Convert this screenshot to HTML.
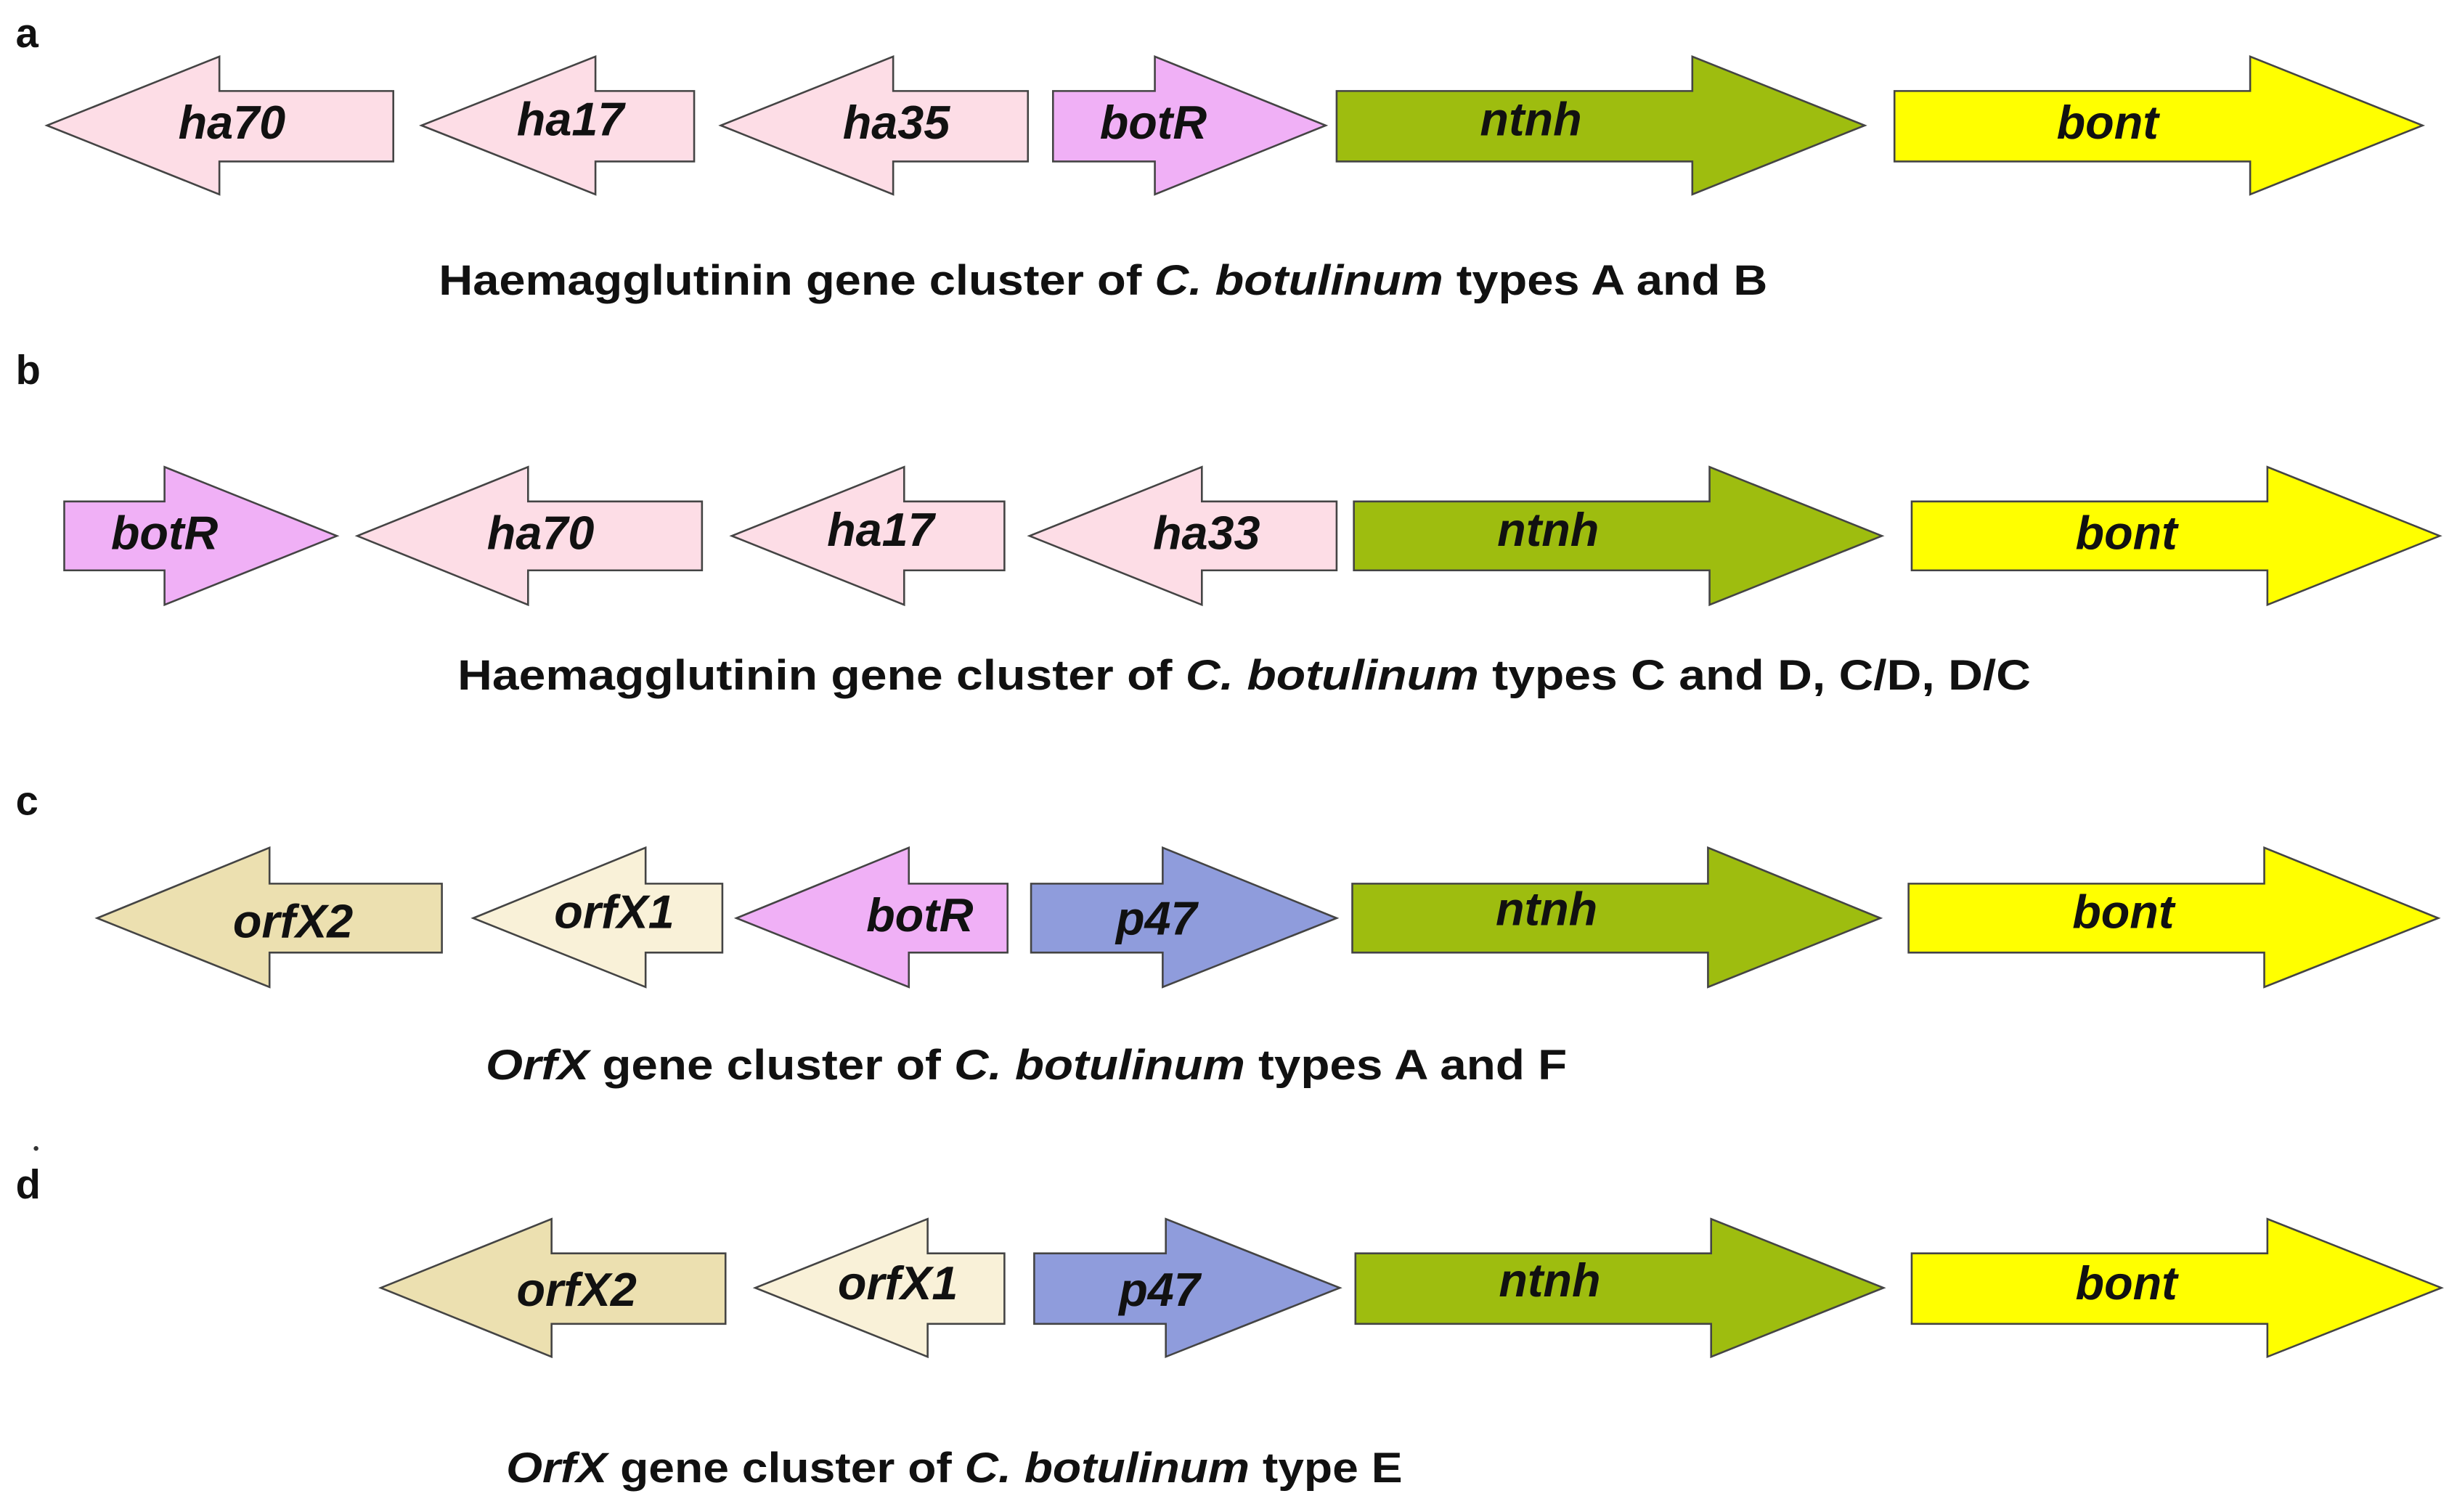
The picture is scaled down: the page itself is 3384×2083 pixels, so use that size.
<!DOCTYPE html>
<html><head><meta charset="utf-8"><style>
html,body{margin:0;padding:0;background:#fff;}
svg{display:block;}
.l{font-family:"Liberation Sans",sans-serif;font-weight:bold;font-style:italic;font-size:30px;fill:#111;text-anchor:middle;dominant-baseline:central;}
.c{font-family:"Liberation Sans",sans-serif;font-weight:bold;font-size:27px;fill:#111;}
.p{font-family:"Liberation Sans",sans-serif;font-weight:bold;font-size:26px;fill:#111;}
polygon{stroke:#444;stroke-width:1.2;}
</style></head><body>
<svg width="3384" height="2083" viewBox="0 0 1568 965" xmlns="http://www.w3.org/2000/svg">
<text class="p" x="10" y="30">a</text>
<polygon fill="#fddde6" points="30,80 140,36 140,58 251,58 251,103 140,103 140,124"/>
<polygon fill="#fddde6" points="269,80 380,36 380,58 443,58 443,103 380,103 380,124"/>
<polygon fill="#fddde6" points="460,80 570,36 570,58 656,58 656,103 570,103 570,124"/>
<polygon fill="#f0b0f6" points="846,80 737,36 737,58 672,58 672,103 737,103 737,124"/>
<polygon fill="#9ebd0f" points="1190,80 1080,36 1080,58 853,58 853,103 1080,103 1080,124"/>
<polygon fill="#ffff00" points="1546,80 1436,36 1436,58 1209,58 1209,103 1436,103 1436,124"/>
<text class="l" x="148" y="78">ha70</text>
<text class="l" x="364" y="76">ha17</text>
<text class="l" x="572" y="78">ha35</text>
<text class="l" x="736" y="78">botR</text>
<text class="l" x="977" y="76">ntnh</text>
<text class="l" x="1345" y="78">bont</text>
<text class="c" x="280" y="188" textLength="848" lengthAdjust="spacingAndGlyphs">Haemagglutinin gene cluster of <tspan font-style="italic">C. botulinum</tspan> types A and B</text>

<text class="p" x="10" y="245">b</text>
<polygon fill="#f0b0f6" points="215,342 105,298 105,320 41,320 41,364 105,364 105,386"/>
<polygon fill="#fddde6" points="228,342 337,298 337,320 448,320 448,364 337,364 337,386"/>
<polygon fill="#fddde6" points="467,342 577,298 577,320 641,320 641,364 577,364 577,386"/>
<polygon fill="#fddde6" points="657,342 767,298 767,320 853,320 853,364 767,364 767,386"/>
<polygon fill="#9ebd0f" points="1201,342 1091,298 1091,320 864,320 864,364 1091,364 1091,386"/>
<polygon fill="#ffff00" points="1557,342 1447,298 1447,320 1220,320 1220,364 1447,364 1447,386"/>
<text class="l" x="105" y="340">botR</text>
<text class="l" x="345" y="340">ha70</text>
<text class="l" x="562" y="338">ha17</text>
<text class="l" x="770" y="340">ha33</text>
<text class="l" x="988" y="338">ntnh</text>
<text class="l" x="1357" y="340">bont</text>
<text class="c" x="292" y="440" textLength="1004" lengthAdjust="spacingAndGlyphs">Haemagglutinin  gene cluster of  <tspan font-style="italic">C. botulinum</tspan>  types C and D, C/D, D/C</text>

<text class="p" x="10" y="520">c</text>
<polygon fill="#ece0b0" points="62,586 172,541 172,564 282,564 282,608 172,608 172,630"/>
<polygon fill="#f9f1d8" points="302,586 412,541 412,564 461,564 461,608 412,608 412,630"/>
<polygon fill="#f0b0f6" points="470,586 580,541 580,564 643,564 643,608 580,608 580,630"/>
<polygon fill="#8f9cdc" points="853,586 742,541 742,564 658,564 658,608 742,608 742,630"/>
<polygon fill="#9ebd0f" points="1200,586 1090,541 1090,564 863,564 863,608 1090,608 1090,630"/>
<polygon fill="#ffff00" points="1556,586 1445,541 1445,564 1218,564 1218,608 1445,608 1445,630"/>
<text class="l" x="187" y="588">orfX2</text>
<text class="l" x="392" y="582">orfX1</text>
<text class="l" x="587" y="584">botR</text>
<text class="l" x="738" y="586">p47</text>
<text class="l" x="987" y="580">ntnh</text>
<text class="l" x="1355" y="582">bont</text>
<text class="c" x="310" y="689" textLength="690" lengthAdjust="spacingAndGlyphs"><tspan font-style="italic">OrfX</tspan> gene cluster  of  <tspan font-style="italic">C. botulinum</tspan>  types A and F</text>

<circle cx="23" cy="733" r="1.5" fill="#333"/>
<text class="p" x="10" y="765">d</text>
<polygon fill="#ece0b0" points="243,822 352,778 352,800 463,800 463,845 352,845 352,866"/>
<polygon fill="#f9f1d8" points="482,822 592,778 592,800 641,800 641,845 592,845 592,866"/>
<polygon fill="#8f9cdc" points="855,822 744,778 744,800 660,800 660,845 744,845 744,866"/>
<polygon fill="#9ebd0f" points="1202,822 1092,778 1092,800 865,800 865,845 1092,845 1092,866"/>
<polygon fill="#ffff00" points="1558,822 1447,778 1447,800 1220,800 1220,845 1447,845 1447,866"/>
<text class="l" x="368" y="823">orfX2</text>
<text class="l" x="573" y="819">orfX1</text>
<text class="l" x="740" y="823">p47</text>
<text class="l" x="989" y="817">ntnh</text>
<text class="l" x="1357" y="819">bont</text>
<text class="c" x="323" y="946" textLength="572" lengthAdjust="spacingAndGlyphs"><tspan font-style="italic">OrfX</tspan> gene cluster of <tspan font-style="italic">C. botulinum</tspan> type E</text>
</svg>
</body></html>
